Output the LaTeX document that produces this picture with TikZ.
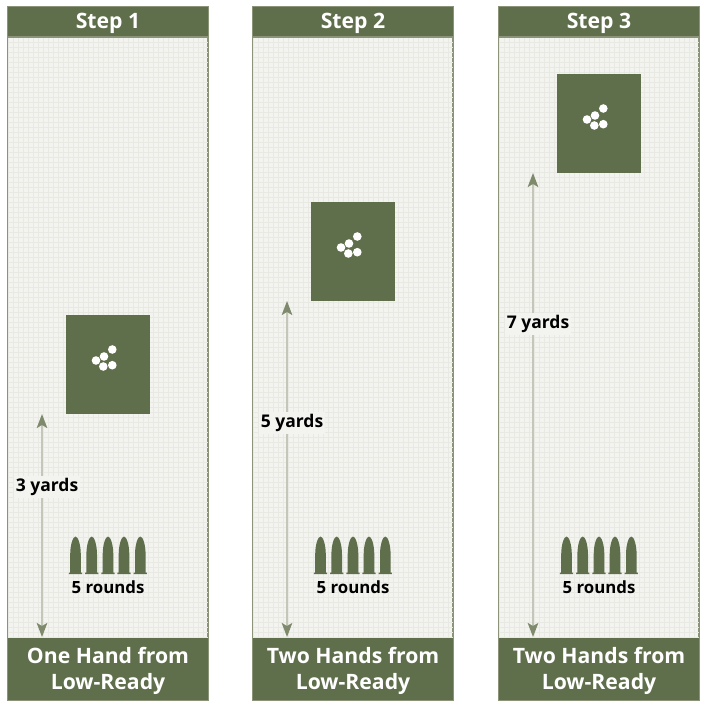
\documentclass[tikz,border=0pt]{standalone}
\usepackage{fontspec}
\setmainfont{Open Sans}
\usetikzlibrary{arrows.meta,positioning}
\definecolor{olive}{HTML}{5F6E4B}
\definecolor{edgeol}{HTML}{8B9379}
\definecolor{spanol}{HTML}{C3C6B8}
\definecolor{tipol}{HTML}{7F8A6C}
\definecolor{paper}{HTML}{F3F4EF}
\definecolor{gridl}{HTML}{E8E9E3}
\tikzset{
  band/.style={shape=rectangle,fill=olive,draw=none,inner sep=0pt,minimum width=200pt},
  bandtext/.style={inner sep=0pt,text=white,font=\fontsize{21.2}{25.5}\selectfont\bfseries,align=center},
  frame/.style={shape=rectangle,draw=edgeol,line width=1.4pt,fill=paper,inner sep=0pt,minimum width=200pt,minimum height=692pt},
  target/.style={shape=rectangle,fill=olive,draw=none,inner sep=0pt,minimum width=84pt,minimum height=99pt},
  hit/.style={shape=circle,fill=white,draw=none,inner sep=0pt,minimum size=8.6pt},
  span/.style={draw=spanol,line width=1.8pt,{Stealth[length=14pt,width=10.5pt,inset=3pt,color=tipol]}-{Stealth[length=14pt,width=10.5pt,inset=3pt,color=tipol]}},
  dist/.style={fill=paper,inner sep=2pt,font=\fontsize{17.5}{21}\selectfont\bfseries,text=black},
  count/.style={inner sep=0pt,font=\fontsize{16.8}{20}\selectfont\bfseries,text=black},
  pics/cartridge/.style={code={
    \fill[olive] (-5.3,0) -- (-5.3,-18) .. controls (-5.3,-28) and (-2.5,-36) .. (0,-36)
      .. controls (2.5,-36) and (5.3,-28) .. (5.3,-18) -- (5.3,0) -- (6.6,0) -- (6.6,1.5) -- (-6.6,1.5) -- (-6.6,0) -- cycle;
  }}
}
\begin{document}
\begin{tikzpicture}[x=1pt,y=-1pt]
  \useasboundingbox (0,0) rectangle (705,708);
  \foreach \n/\dx/\ty/\ly/\yd/\head/\foot in {
    1/0/364.5/487/3/Step 1/One Hand from\\Low-Ready,
    2/245/251.5/423/5/Step 2/Two Hands from\\Low-Ready,
    3/491/123.5/324/7/Step 3/Two Hands from\\Low-Ready}
  {
    \begin{scope}[xshift=\dx pt]
      \node[frame] (panel\n) at (108,353.5) {};
      \draw[gridl,line width=0.35pt,shift={(8,7)}] (0,0) grid[step=5pt] (200,692);
      \draw[edgeol,line width=1.4pt] (panel\n.north west) rectangle (panel\n.south east);
      \node[band,minimum height=30pt] (head\n) at (108,22) {};
      \node[bandtext] (headtext\n) at (108,23.5) {\head};
      \draw[edgeol,line width=1.4pt] (head\n.south west) -- (head\n.south east);
      \node[band,minimum height=62pt] (foot\n) at (108,668.5) {};
      \node[bandtext] (foottext\n) at (108,671) {\foot};
      \node[target] (board\n) at (108,\ty) {};
      \node[hit] (hita\n) at ([shift={(4.3,-15)}]board\n.center) {};
      \node[hit] (hitb\n) at ([shift={(-4,-8)}]board\n.center) {};
      \node[hit] (hitc\n) at ([shift={(-12,-4)}]board\n.center) {};
      \node[hit] (hitd\n) at ([shift={(-4.7,2)}]board\n.center) {};
      \node[hit] (hite\n) at ([shift={(4.3,0.7)}]board\n.center) {};
      \foreach \cx in {75.5,91.7,108,124,140.3}
        \pic at (\cx,572.5) {cartridge};
      \node[count] (rounds\n) at (108,587) {5 rounds};
      % arrow runs from the footer up to the board's lower edge
      \coordinate (low\n) at (42,637);
      \coordinate (high\n) at (42,\ty+49.5);
      \draw[span] (low\n) -- (high\n);
      \node[dist] (yards\n) at (47,\ly) {\yd{} yards};
    \end{scope}
  }
\end{tikzpicture}
\end{document}
